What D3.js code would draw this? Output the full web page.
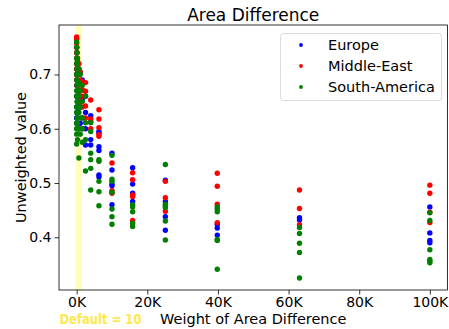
<!DOCTYPE html>
<html>
<head>
<meta charset="utf-8">
<script src="https://cdn.jsdelivr.net/npm/d3@7"></script>
<style>
  body { margin: 0; background: #fff; }
  svg text { font-family: "DejaVu Sans", sans-serif; fill: #000; }
</style>
</head>
<body>
<script>
// weights tested, and the scores read for each region at each weight
const weights = [0, 10, 100, 250, 630, 1000, 1585, 2512, 3981, 6310, 10000, 15849, 25119, 39811, 63096, 100000];

const europe = [
  [0.74, 0.70, 0.66, 0.62],
  [0.75, 0.71, 0.68, 0.64, 0.61],
  [0.73, 0.69, 0.66, 0.63],
  [0.72, 0.68, 0.65, 0.62],
  [0.71, 0.67, 0.64, 0.60],
  [0.703, 0.67, 0.64, 0.61],
  [0.69, 0.653, 0.62, 0.60],
  [0.66, 0.63, 0.60, 0.57],
  [0.624, 0.613, 0.58, 0.570],
  [0.595, 0.592, 0.567, 0.560, 0.515, 0.511],
  [0.555, 0.524, 0.498, 0.495, 0.460],
  [0.528, 0.498, 0.481, 0.466, 0.478],
  [0.505, 0.466, 0.438, 0.413],
  [0.424, 0.417, 0.404],
  [0.436, 0.432],
  [0.456, 0.408, 0.394, 0.390]
];

const middleEast = [
  [0.769, 0.758, 0.74, 0.72, 0.70],
  [0.765, 0.75, 0.73, 0.71, 0.69],
  [0.74, 0.72, 0.70, 0.68],
  [0.73, 0.71, 0.69, 0.67],
  [0.72, 0.70, 0.68, 0.66],
  [0.705, 0.69, 0.67, 0.65],
  [0.685, 0.672, 0.66, 0.64],
  [0.685, 0.669, 0.642, 0.62],
  [0.653, 0.618, 0.60],
  [0.635, 0.618, 0.602, 0.589, 0.586],
  [0.537, 0.486, 0.481],
  [0.519, 0.506, 0.475, 0.478, 0.431],
  [0.503, 0.473, 0.448],
  [0.518, 0.494, 0.461, 0.427],
  [0.487, 0.453, 0.423],
  [0.496, 0.481, 0.446, 0.427]
];

const southAmerica = [
  [0.76, 0.73, 0.70, 0.67, 0.64, 0.60, 0.572],
  [0.75, 0.72, 0.69, 0.66, 0.63, 0.61, 0.59],
  [0.74, 0.71, 0.68, 0.65, 0.62, 0.60],
  [0.725, 0.70, 0.67, 0.64, 0.61, 0.58],
  [0.71, 0.685, 0.66, 0.63, 0.60, 0.546],
  [0.70, 0.67, 0.64, 0.62, 0.59],
  [0.68, 0.65, 0.62, 0.60, 0.575],
  [0.66, 0.611, 0.580, 0.522],
  [0.611, 0.595, 0.555, 0.543, 0.527, 0.487],
  [0.543, 0.540, 0.503, 0.484, 0.458],
  [0.551, 0.507, 0.503, 0.483, 0.452, 0.438, 0.424],
  [0.460, 0.456, 0.447, 0.426, 0.420],
  [0.534, 0.461, 0.458, 0.455, 0.430, 0.395],
  [0.456, 0.452, 0.447, 0.396, 0.394, 0.341],
  [0.418, 0.407, 0.389, 0.372, 0.325],
  [0.445, 0.431, 0.377, 0.359, 0.356, 0.353]
];

const regions = ["Europe", "Middle-East", "South-America"];
const colors = ["#0000ff", "#ff0000", "#008000"];
const xTicks = [0, 20000, 40000, 60000, 80000, 100000];
const yTicks = [0.4, 0.5, 0.6, 0.7];
const defaultWeight = 10;

const width = 449, height = 329;
const margin = { top: 25, right: 1.5, bottom: 39, left: 59 };

const series = [europe, middleEast, southAmerica].map((cols, i) => ({
  name: regions[i],
  color: colors[i],
  points: cols.flatMap((vals, j) => vals.map(v => ({ x: weights[j], y: v })))
}));

const allY = series.flatMap(s => s.points.map(p => p.y));
const yMin = d3.min(allY), yMax = d3.max(allY);
const xMin = d3.min(weights), xMax = d3.max(weights);
// matplotlib style 5% padding
const xPad = (xMax - xMin) * 0.05, yPad = (yMax - yMin) * 0.05;

const x = d3.scaleLinear()
  .domain([xMin - xPad, xMax + xPad])
  .range([margin.left, width - margin.right]);
const y = d3.scaleLinear()
  .domain([yMin - yPad, yMax + yPad])
  .range([height - margin.bottom, margin.top]);

const svg = d3.select("body").append("svg")
  .attr("width", width)
  .attr("height", height);

// default weight band
svg.append("rect")
  .attr("x", x(-300))
  .attr("width", x(1500) - x(-300))
  .attr("y", margin.top)
  .attr("height", height - margin.bottom - margin.top)
  .attr("fill", "#ffff00")
  .attr("opacity", 0.28);

series.forEach(s => {
  svg.append("g")
    .selectAll("circle")
    .data(s.points)
    .enter()
    .append("circle")
    .attr("cx", d => x(d.x))
    .attr("cy", d => y(d.y))
    .attr("r", 2.7)
    .attr("fill", s.color);
});

// axes
const xAxis = svg.append("g")
  .attr("transform", `translate(0,${height - margin.bottom})`)
  .call(d3.axisBottom(x).tickValues(xTicks).tickFormat(d => (d / 1000) + "K").tickSizeOuter(0).tickSize(4.5).tickPadding(3));
const yAxis = svg.append("g")
  .attr("transform", `translate(${margin.left},0)`)
  .call(d3.axisLeft(y).tickValues(yTicks).tickFormat(d3.format(".1f")).tickSizeOuter(0).tickSize(4.5).tickPadding(3));

[xAxis, yAxis].forEach(g => {
  g.select(".domain").remove();
  g.selectAll("text").attr("font-size", 14).attr("font-family", "DejaVu Sans");
  g.selectAll("line").attr("stroke", "#000").attr("stroke-width", 0.8);
});

// frame
svg.append("rect")
  .attr("x", margin.left)
  .attr("y", margin.top)
  .attr("width", width - margin.left - margin.right)
  .attr("height", height - margin.top - margin.bottom)
  .attr("fill", "none")
  .attr("stroke", "#000")
  .attr("stroke-width", 0.8);

// title and labels
svg.append("text")
  .attr("x", (margin.left + width - margin.right) / 2)
  .attr("y", 21)
  .attr("text-anchor", "middle")
  .attr("font-size", 17)
  .text("Area Difference");

svg.append("text")
  .attr("x", (margin.left + width - margin.right) / 2)
  .attr("y", 323.5)
  .attr("text-anchor", "middle")
  .attr("font-size", 14.5)
  .text("Weight of Area Difference");

svg.append("text")
  .attr("transform", `translate(25.5,${(margin.top + height - margin.bottom) / 2}) rotate(-90)`)
  .attr("text-anchor", "middle")
  .attr("font-size", 14.5)
  .text("Unweighted value");

svg.append("text")
  .attr("x", 59.5)
  .attr("y", 323.5)
  .attr("font-size", 14)
  .attr("font-weight", "bold")
  .attr("textLength", 82)
  .attr("lengthAdjust", "spacingAndGlyphs")
  .style("fill", "#ffe84d")
  .text("Default = " + defaultWeight);

// legend
const legend = svg.append("g");
legend.append("rect")
  .attr("x", 280.5).attr("y", 33.5)
  .attr("width", 161).attr("height", 67)
  .attr("rx", 3)
  .attr("fill", "#fff").attr("fill-opacity", 0.8)
  .attr("stroke", "#d0d0d0").attr("stroke-width", 0.8);

series.forEach((s, i) => {
  const ly = 45 + i * 21;
  legend.append("circle")
    .attr("cx", 301).attr("cy", ly)
    .attr("r", 1.9)
    .attr("fill", s.color);
  legend.append("text")
    .attr("x", 328).attr("y", ly)
    .attr("dy", "0.35em")
    .attr("font-size", 14.5)
    .text(s.name);
});
</script>
</body>
</html>
